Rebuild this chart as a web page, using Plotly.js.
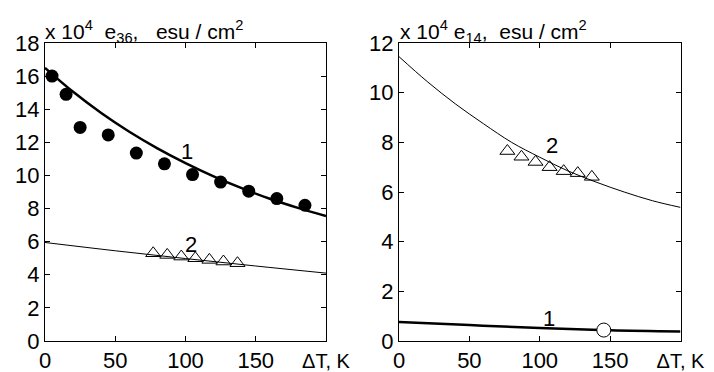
<!DOCTYPE html>
<html><head><meta charset="utf-8">
<script src="https://cdn.plot.ly/plotly-3.0.1.min.js"></script>
<style>html,body{margin:0;padding:0;background:#fff}</style>
</head><body><div id="chart" style="width:714px;height:372px"></div>
<script>
// ---- data ----
const curveX   = [0, 20, 40, 60, 80, 100, 120, 140, 160, 180, 200];
const e36Fit1  = [16.5, 15.05, 13.77, 12.64, 11.64, 10.75, 9.95, 9.23, 8.59, 8.04, 7.55];
const lineX    = [0, 50, 100, 150, 200];
const e36Fit2  = [5.95, 5.45, 4.98, 4.53, 4.1];
const e36DotsX = [5, 15, 25, 45, 65, 85, 105, 125, 145, 165, 185];
const e36Dots  = [16.0, 14.9, 12.9, 12.45, 11.35, 10.7, 10.05, 9.6, 9.05, 8.6, 8.2];
const triX     = [77, 87, 97, 107, 117, 127, 137];
const e36Tri   = [5.3, 5.2, 5.1, 5.0, 4.9, 4.8, 4.7];
const e14Fit2  = [11.45, 10.45, 9.55, 8.75, 8.0, 7.4, 6.85, 6.4, 6.0, 5.65, 5.38];
const e14Tri   = [7.65, 7.42, 7.21, 7.0, 6.84, 6.76, 6.61];
const e14Fit1  = [0.77, 0.64, 0.52, 0.43, 0.38];
const e14CircX = [145.5];
const e14Circ  = [0.44];
const xTickVals  = [0, 50, 100, 150, 200];
const xTickText  = ['0', '50', '100', '150', '<span style="font-size:20px">ΔT, K</span>'];
const yTickLeft  = [0, 2, 4, 6, 8, 10, 12, 14, 16, 18];
const yTickRight = [0, 2, 4, 6, 8, 10, 12];
const leftTitle  = 'x 10<sup>4</sup>\u00a0 e<sub>36</sub>,\u00a0\u00a0 esu / cm<sup>2</sup>';
const rightTitle = 'x 10<sup>4</sup> e<sub>14</sub>,\u00a0 esu / cm<sup>2</sup>';

const FONT = 'Liberation Sans, Arial, Helvetica, sans-serif';
const FS = 21;
const TFS = 22;

const traces = [
  {x: curveX, y: e36Fit1, xaxis: 'x', yaxis: 'y', mode: 'lines', line: {color: '#000', width: 2.5, shape: 'spline'}},
  {x: lineX, y: e36Fit2, xaxis: 'x', yaxis: 'y', mode: 'lines', line: {color: '#000', width: 1, shape: 'spline'}},
  {x: e36DotsX, y: e36Dots, xaxis: 'x', yaxis: 'y', mode: 'markers', marker: {symbol: 'circle', size: 13, color: '#000'}},
  {x: triX, y: e36Tri, xaxis: 'x', yaxis: 'y', mode: 'markers', marker: {symbol: 'triangle-up-open', size: 13, color: '#000', line: {width: 1}}},
  {x: curveX, y: e14Fit2, xaxis: 'x2', yaxis: 'y2', mode: 'lines', line: {color: '#000', width: 1, shape: 'spline'}},
  {x: triX, y: e14Tri, xaxis: 'x2', yaxis: 'y2', mode: 'markers', marker: {symbol: 'triangle-up-open', size: 13, color: '#000', line: {width: 1}}},
  {x: lineX, y: e14Fit1, xaxis: 'x2', yaxis: 'y2', mode: 'lines', line: {color: '#000', width: 2.5, shape: 'spline'}},
  {x: e14CircX, y: e14Circ, xaxis: 'x2', yaxis: 'y2', mode: 'markers', marker: {symbol: 'circle', size: 14, color: '#fff', line: {color: '#000', width: 1}}}
];

function xax(domain, anchor) {
  return {domain: domain, anchor: anchor, range: [0, 200], tickvals: xTickVals, ticktext: xTickText,
    ticks: 'inside', ticklen: 5, tickcolor: '#000', showline: true, linecolor: '#000', linewidth: 1,
    mirror: 'ticks', showgrid: false, zeroline: false, tickfont: {family: FONT, size: TFS, color: '#000'}};
}
function yax(domain, anchor, maxv, vals) {
  return {domain: domain, anchor: anchor, range: [0, maxv], tickvals: vals,
    ticks: 'inside', ticklen: 5, tickcolor: '#000', showline: true, linecolor: '#000', linewidth: 1,
    mirror: 'ticks', showgrid: false, zeroline: false, tickfont: {family: FONT, size: TFS, color: '#000'}};
}

const yDom = [31 / 372, 329 / 372];
const layout = {
  width: 714, height: 372, showlegend: false,
  margin: {l: 0, r: 0, t: 0, b: 0},
  paper_bgcolor: '#fff', plot_bgcolor: '#fff',
  font: {family: FONT, size: FS, color: '#000'},
  xaxis: xax([45 / 714, 326 / 714], 'y'),
  yaxis: yax(yDom, 'x', 18, yTickLeft),
  xaxis2: xax([399 / 714, 680.5 / 714], 'y2'),
  yaxis2: yax(yDom, 'x2', 12, yTickRight),
  annotations: [
    {text: leftTitle, xref: 'paper', yref: 'paper', x: 43 / 714, y: 1 - 31 / 372, xanchor: 'left', yanchor: 'middle', showarrow: false, font: {family: FONT, size: FS, color: '#000'}},
    {text: rightTitle, xref: 'paper', yref: 'paper', x: 398 / 714, y: 1 - 31 / 372, xanchor: 'left', yanchor: 'middle', showarrow: false, font: {family: FONT, size: FS, color: '#000'}},
    {text: '1', xref: 'x', yref: 'y', x: 101, y: 11.45, showarrow: false, font: {family: FONT, size: TFS, color: '#000'}},
    {text: '2', xref: 'x', yref: 'y', x: 104, y: 5.85, showarrow: false, font: {family: FONT, size: TFS, color: '#000'}},
    {text: '2', xref: 'x2', yref: 'y2', x: 109, y: 7.86, showarrow: false, font: {family: FONT, size: TFS, color: '#000'}},
    {text: '1', xref: 'x2', yref: 'y2', x: 106.5, y: 0.91, showarrow: false, font: {family: FONT, size: TFS, color: '#000'}}
  ]
};

Plotly.newPlot('chart', traces, layout, {displayModeBar: false, staticPlot: true});
</script></body></html>
